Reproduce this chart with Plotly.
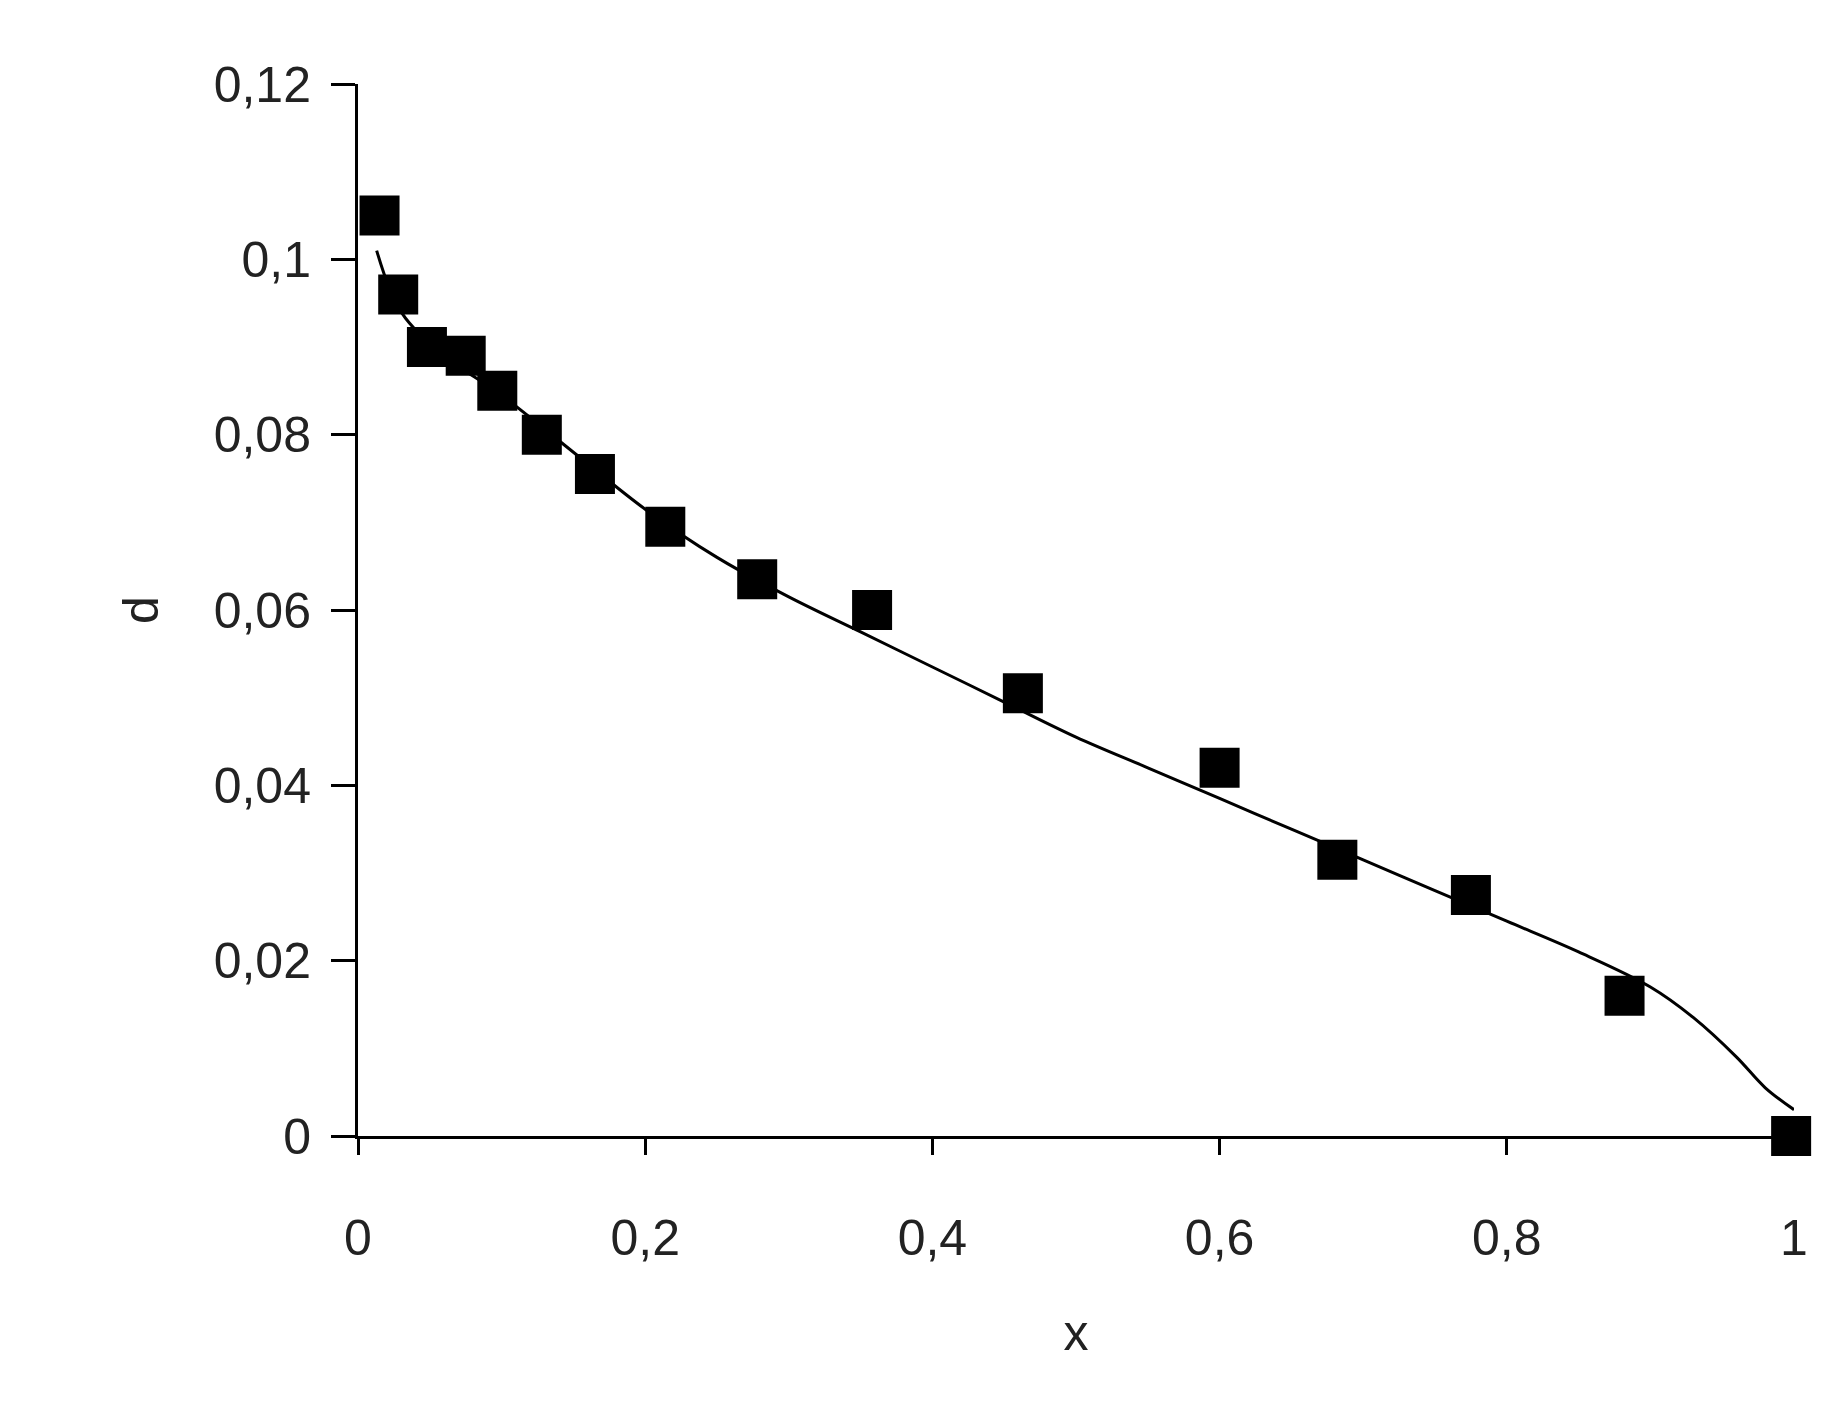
import plotly.graph_objects as go

x_data = [0.015, 0.028, 0.048, 0.075, 0.097, 0.128, 0.165, 0.214, 0.278, 0.358, 0.463, 0.600, 0.682, 0.775, 0.882, 0.998]
d_data = [0.105, 0.096, 0.090, 0.089, 0.085, 0.080, 0.0755, 0.0695, 0.0635, 0.060, 0.0505, 0.042, 0.0315, 0.0275, 0.016, 0.0]

x_fit = [0.013, 0.03, 0.06, 0.1, 0.15, 0.2, 0.25, 0.3, 0.35, 0.4, 0.45, 0.5, 0.55, 0.6, 0.65, 0.7, 0.75, 0.8, 0.85, 0.9, 0.93, 0.96, 0.98, 1.0]
d_fit = [0.101, 0.094, 0.089, 0.0845, 0.078, 0.0715, 0.066, 0.0615, 0.0575, 0.0535, 0.0495, 0.0455, 0.042, 0.0385, 0.035, 0.0315, 0.028, 0.0245, 0.021, 0.017, 0.0135, 0.009, 0.0055, 0.003]

x_ticks = [0, 0.2, 0.4, 0.6, 0.8, 1]
x_labels = ["0", "0,2", "0,4", "0,6", "0,8", "1"]
y_ticks = [0, 0.02, 0.04, 0.06, 0.08, 0.1, 0.12]
y_labels = ["0", "0,02", "0,04", "0,06", "0,08", "0,1", "0,12"]

fig = go.Figure()
fig.add_trace(go.Scatter(x=x_fit, y=d_fit, mode="lines", line=dict(color="black", width=3, shape="spline"), cliponaxis=False))
fig.add_trace(go.Scatter(x=x_data, y=d_data, mode="markers", marker=dict(symbol="square", size=40, color="black"), cliponaxis=False))

font = dict(family="Liberation Sans, Arial", size=50, color="#222")
fig.update_layout(
    width=1832, height=1412, plot_bgcolor="white", paper_bgcolor="white",
    showlegend=False, margin=dict(l=350, r=46, t=76, b=284),
    xaxis=dict(range=[0, 1], tickvals=x_ticks, ticktext=x_labels, showline=True, linecolor="black", linewidth=3,
               ticks="outside", ticklen=16, tickwidth=3, tickcolor="black", showgrid=False, zeroline=False,
               tickfont=font, ticklabelstandoff=40,
               title=dict(text="x", font=dict(family="Liberation Sans, Arial", size=50, color="#222"), standoff=50)),
    yaxis=dict(range=[0, 0.12], tickvals=y_ticks, ticktext=y_labels, showline=True, linecolor="black", linewidth=3,
               ticks="outside", ticklen=24, tickwidth=3, tickcolor="black", showgrid=False, zeroline=False,
               tickfont=font, ticklabelstandoff=10,
               title=dict(text="d", font=dict(family="Liberation Sans, Arial", size=50, color="#222"), standoff=40)),
)
fig.write_html("out.html")
